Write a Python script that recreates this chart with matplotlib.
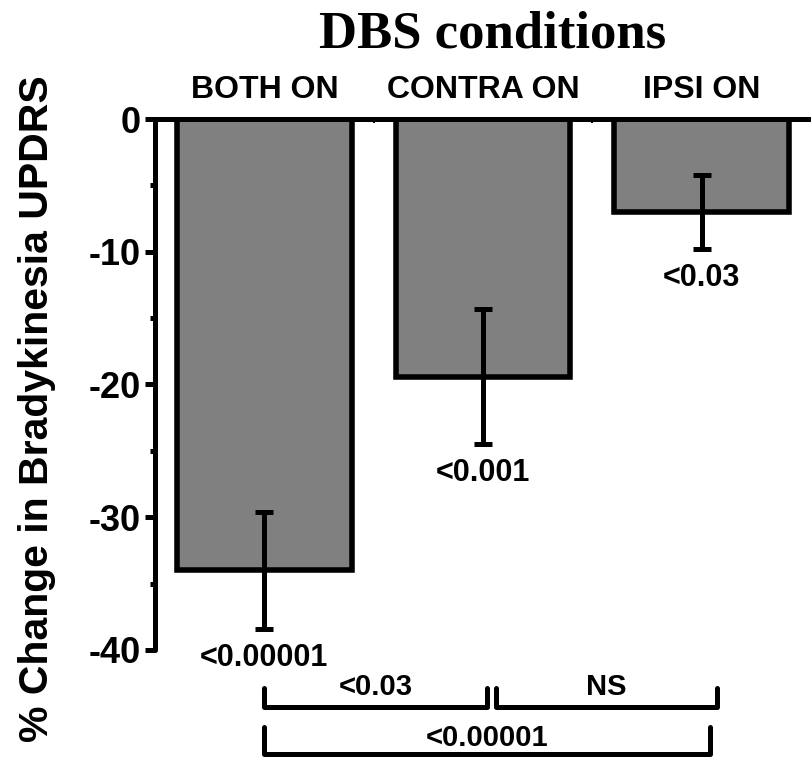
import numpy as np
import matplotlib
matplotlib.use("Agg")
import matplotlib.pyplot as plt

plt.rcParams['font.family'] = ['Liberation Sans', 'DejaVu Sans']
plt.rcParams['font.weight'] = 'bold'
plt.rcParams['axes.unicode_minus'] = False

# data
conditions = ['BOTH ON', 'CONTRA ON', 'IPSI ON']
change = [-34.0, -19.4, -7.0]
err = [4.4, 5.1, 2.8]
pvals = ['<0.00001', '<0.001', '<0.03']
# pairwise comparisons: (from, to, label)
comparisons = [(0.0, 1.02, '<0.03'), (1.06, 2.07, 'NS'), (0.0, 2.04, '<0.00001')]

lw = 3.6
fig = plt.figure(figsize=(8.11, 7.58), dpi=100)
ax = fig.add_axes([0.1911, 0.1425, 0.8089, 0.7005])

x = np.arange(len(conditions))
ax.bar(x, change, width=0.8, color='#808080', edgecolor='black', linewidth=4, zorder=2)
ax.errorbar(x, change, yerr=err, fmt='none', ecolor='black', elinewidth=lw,
            capsize=6.5, capthick=lw, zorder=3)

ax.set_xlim(-0.5, 2.5)
ax.set_ylim(-40, 0)
ax.spines['right'].set_visible(False)
ax.spines['bottom'].set_visible(False)
ax.spines['left'].set_linewidth(lw)
ax.spines['top'].set_linewidth(lw)
ax.spines['left'].set_capstyle('round')
ax.spines['top'].set_capstyle('round')

ax.set_yticks([0, -10, -20, -30, -40])
ax.set_yticks([-5, -15, -25, -35], minor=True)
ax.tick_params(axis='y', which='major', length=7, width=lw, labelsize=26, pad=3)
ax.tick_params(axis='y', which='minor', length=3.5, width=lw)
ax.set_xticks([0, 0.5, 1, 1.5, 2])
ax.tick_params(axis='x', which='major', direction='in', length=3, width=1.5,
               top=True, bottom=False, labeltop=False, labelbottom=False)

# condition labels above the bars
for xi, name in zip(x, conditions):
    ax.text(xi, 2.2, name, ha='center', va='center', fontsize=23, fontweight='bold')

# p-values under error bars
for xi, m, e, p in zip(x, change, err, pvals):
    ax.text(xi, m - e - 2.2, p, ha='center', va='center', fontsize=22, fontweight='bold',
            clip_on=False)

# comparison brackets
levels = [(-44.3, -42.9), (-44.3, -42.9), (-47.8, -45.8)]
label_y = [-42.8, -42.8, -46.6]
for (x0, x1, lab), (yb, yt), ty in zip(comparisons, levels, label_y):
    ax.plot([x0, x0, x1, x1], [yt, yb, yb, yt], color='black', lw=lw,
            solid_capstyle='round', solid_joinstyle='round', clip_on=False)
    ax.text((x0 + x1) / 2, ty, lab, ha='center', va='center', fontsize=21,
            fontweight='bold', clip_on=False)

fig.text(0.607, 0.955, 'DBS conditions', ha='center', va='center', fontsize=38,
         fontweight='bold', family=['Liberation Serif', 'DejaVu Serif'])
fig.text(0.046, 1 - 409 / 758, '% Change in Bradykinesia UPDRS', rotation=90,
         ha='center', va='center', fontsize=29.5, fontweight='bold')

fig.savefig('out.png', dpi=100)
